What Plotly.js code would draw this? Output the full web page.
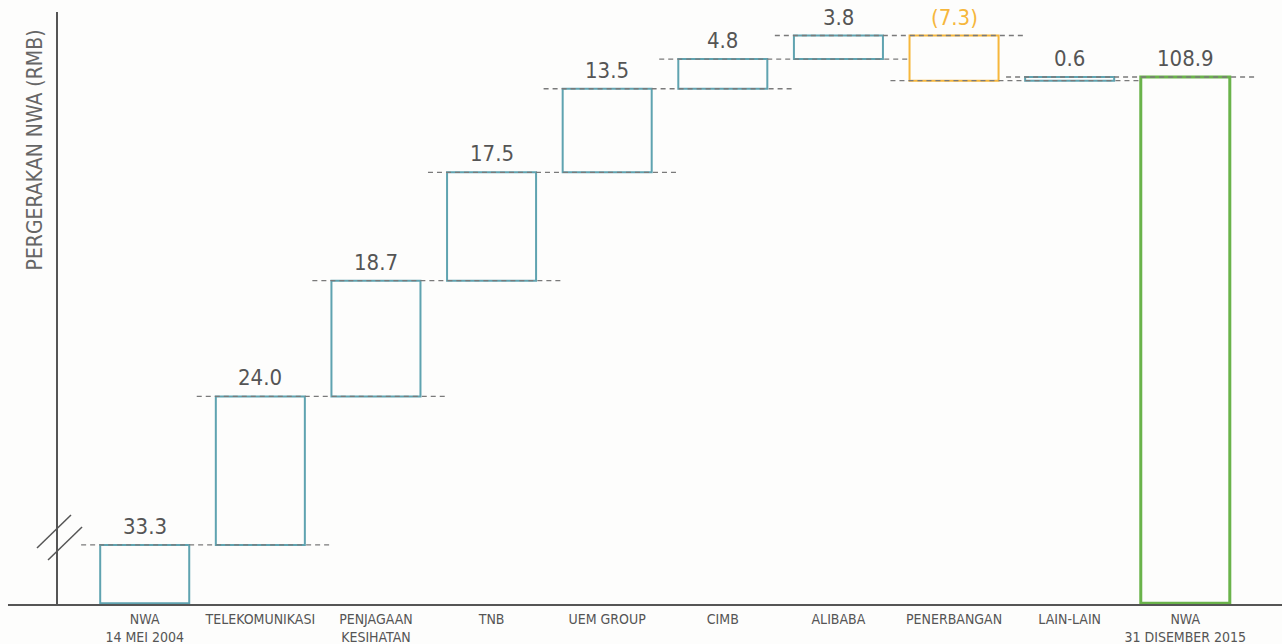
<!DOCTYPE html>
<html>
<head>
<meta charset="utf-8">
<script src="https://cdn.plot.ly/plotly-3.0.1.min.js"></script>
<style>
html,body{margin:0;padding:0;background:#fdfdfc;}
#chart{width:1282px;height:644px;}
</style>
</head>
<body>
<div id="chart"></div>
<script>
// ---- data ----
const categories = ["NWA<br>14 MEI 2004", "TELEKOMUNIKASI", "PENJAGAAN<br>KESIHATAN", "TNB", "UEM GROUP", "CIMB", "ALIBABA", "PENERBANGAN", "LAIN-LAIN", "NWA<br>31 DISEMBER 2015"];
const values = [33.3, 24.0, 18.7, 17.5, 13.5, 4.8, 3.8, -7.3, 0.6, 108.9];
const measures = ["total", "relative", "relative", "relative", "relative", "relative", "relative", "relative", "relative", "total"];
const valueLabels = ["33.3", "24.0", "18.7", "17.5", "13.5", "4.8", "3.8", "(7.3)", "0.6", "108.9"];

// ---- style ----
const FONT = '"DejaVu Sans Condensed", "DejaVu Sans", sans-serif';
const C_UP = '#5fa3b0', C_DOWN = '#f6b73c', C_TOTAL = '#6ab34a', C_TEXT = '#555555';
const Y_RANGE = [23.6, 119.4];

// ---- derive bars from data ----
const xs = categories.map((_, i) => i);
const bases = [], heights = [], colors = [], widths = [], tops = [], ends = [];
let cum = 0;
values.forEach((v, i) => {
  if (measures[i] === 'total') {
    const b = Y_RANGE[0] + 0.3;
    bases.push(b); heights.push(v - b); cum = v;
    colors.push(i === 0 ? C_UP : C_TOTAL); widths.push(i === values.length - 1 ? 3 : 2);
    tops.push(v);
  } else {
    bases.push(cum); heights.push(v);
    tops.push(Math.max(cum, cum + v));
    cum += v;
    colors.push(v >= 0 ? C_UP : C_DOWN); widths.push(2);
  }
  ends.push(cum);
});

// connectors: level after bar i, spanning bar i and bar i+1
const cx = [], cy = [];
for (let i = 0; i < values.length - 1; i++) {
  cx.push(i - 0.55, i + 1.6, null);
  cy.push(ends[i], ends[i], null);
}

const barTrace = {
  type: 'bar', x: xs, y: heights, base: bases, width: 0.77,
  marker: {color: 'rgba(255,255,255,0)', line: {color: colors, width: widths}},
  hoverinfo: 'skip'
};
const connTrace = {
  type: 'scatter', mode: 'lines', x: cx, y: cy,
  line: {color: '#7a7a7a', width: 1.3, dash: '5px,4px'}, hoverinfo: 'skip'
};

const annotations = valueLabels.map((t, i) => ({
  x: xs[i], y: tops[i], xref: 'x', yref: 'y', text: t, showarrow: false,
  yanchor: 'bottom', yshift: 4,
  font: {family: FONT, size: 22, color: values[i] < 0 ? C_DOWN : C_TEXT}
}));
annotations.push({
  xref: 'paper', yref: 'paper', x: -0.019, y: 0.768, text: 'PERGERAKAN NWA (RMB)',
  textangle: -90, showarrow: false, xanchor: 'center', yanchor: 'middle',
  font: {family: FONT, size: 21, color: '#666666'}
});

const layout = {
  width: 1282, height: 644,
  margin: {l: 58, r: 10, t: 12, b: 39},
  paper_bgcolor: '#fdfdfc', plot_bgcolor: 'rgba(0,0,0,0)',
  showlegend: false,
  xaxis: {
    range: [-0.75, 9.75], tickvals: xs, ticktext: categories,
    showgrid: false, zeroline: false, showline: false, ticks: '',
    ticklabelstandoff: 4,
    tickfont: {family: FONT, size: 14, color: C_TEXT}, fixedrange: true
  },
  yaxis: {
    range: Y_RANGE, showgrid: false, zeroline: false, showticklabels: false,
    showline: true, linecolor: '#555555', linewidth: 2, ticks: '', fixedrange: true
  },
  annotations: annotations,
  shapes: [
    {type: 'line', xref: 'paper', yref: 'paper', x0: -0.0412, x1: 1.01, y0: 0, y1: 0,
     line: {color: '#555555', width: 2}},
    {type: 'line', xref: 'paper', yref: 'paper', x0: -0.0173, y0: 0.0961, x1: 0.0107, y1: 0.1518,
     line: {color: '#555555', width: 1.5}},
    {type: 'line', xref: 'paper', yref: 'paper', x0: -0.0082, y0: 0.0759, x1: 0.0198, y1: 0.1315,
     line: {color: '#555555', width: 1.5}}
  ]
};

Plotly.newPlot('chart', [barTrace, connTrace], layout, {displayModeBar: false, staticPlot: true});
</script>
</body>
</html>
